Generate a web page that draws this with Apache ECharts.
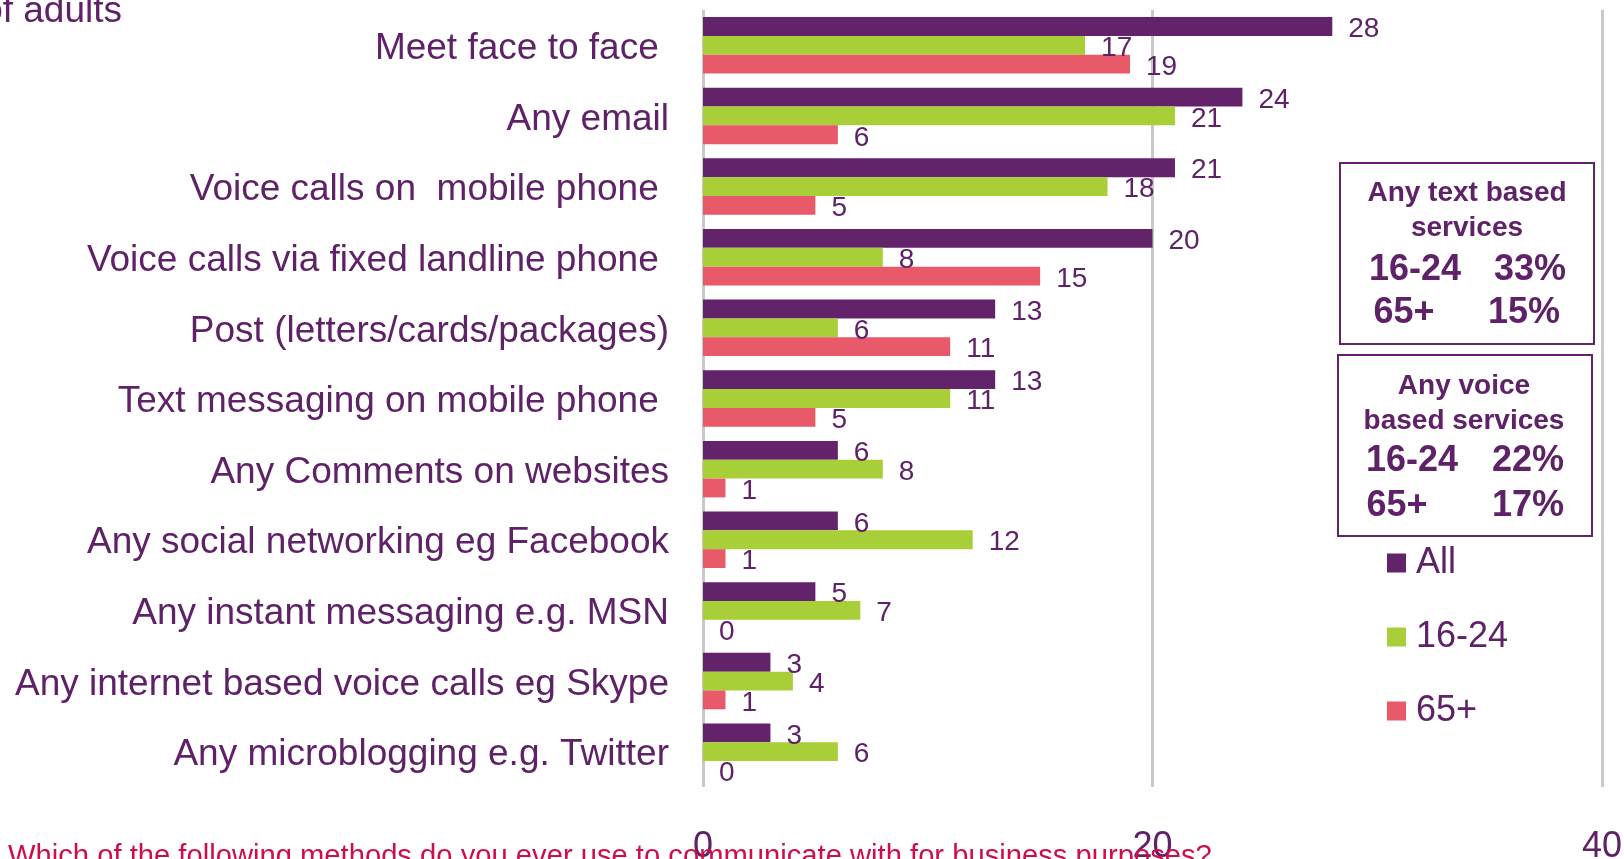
<!DOCTYPE html>
<html>
<head>
<meta charset="utf-8">
<title>Methods used to communicate for business purposes</title>
<script src="https://cdn.jsdelivr.net/npm/echarts@6/dist/echarts.min.js"></script>
<style>
  html, body { margin: 0; padding: 0; background: #ffffff; }
  #chart { width: 1624px; height: 859px; }
</style>
</head>
<body>
<div id="chart"></div>
<script>
// Communication methods (top to bottom); trailing spaces kept as in the source labels
const categories = [
  'Meet face to face ',
  'Any email',
  'Voice calls on  mobile phone ',
  'Voice calls via fixed landline phone ',
  'Post (letters/cards/packages)',
  'Text messaging on mobile phone ',
  'Any Comments on websites',
  'Any social networking eg Facebook',
  'Any instant messaging e.g. MSN',
  'Any internet based voice calls eg Skype',
  'Any microblogging e.g. Twitter'
];

// Percentage of adults using each method
const allAdults = [28, 24, 21, 20, 13, 13, 6, 6, 5, 3, 3];
const age16to24 = [17, 21, 18, 8, 6, 11, 8, 12, 7, 4, 6];
const age65plus = [19, 6, 5, 15, 11, 5, 1, 1, 0, 1, 0];

const seriesNames = ['All', '16-24', '65+'];

// Summary boxes
const textBasedTitle = ['Any text based', 'services'];
const textBasedRows = [['16-24', '33%'], ['65+', '15%']];
const voiceBasedTitle = ['Any voice', 'based services'];
const voiceBasedRows = [['16-24', '22%'], ['65+', '17%']];

const questionText = 'Which of the following methods do you ever use to communicate with for business purposes?';
const unitText = '% of adults';

const FONT = '"Liberation Sans", Arial, sans-serif';
const PURPLE = '#62236A';
const TEXT_PURPLE = '#5F2167';
const GREEN = '#A8CF37';
const RED = '#E8596A';
const GRID_GRAY = '#C9C9C9';

const chart = echarts.init(document.getElementById('chart'), null, { renderer: 'canvas' });

function barSeries(name, data, color) {
  return {
    name: name,
    type: 'bar',
    data: data,
    barGap: '0%',
    barCategoryGap: '20%',
    itemStyle: { color: color },
    label: {
      show: true,
      position: 'right',
      distance: 16,
      offset: [0, 3],
      color: TEXT_PURPLE,
      fontFamily: FONT,
      fontSize: 28
    }
  };
}

function boxText(text, x, y, size) {
  return {
    type: 'text',
    x: x,
    y: y,
    z: 10,
    style: {
      text: text,
      fill: TEXT_PURPLE,
      font: 'bold ' + size + 'px ' + FONT,
      align: 'center',
      verticalAlign: 'middle'
    }
  };
}

const graphics = [
  // Summary box: text based services
  {
    type: 'rect', z: 5,
    shape: { x: 1340, y: 163, width: 254, height: 181 },
    style: { fill: '#ffffff', stroke: PURPLE, lineWidth: 2 }
  },
  boxText(textBasedTitle[0], 1467, 193, 28),
  boxText(textBasedTitle[1], 1467, 228, 28),
  boxText(textBasedRows[0][0], 1415, 270, 36),
  boxText(textBasedRows[0][1], 1530, 270, 36),
  boxText(textBasedRows[1][0], 1404, 313, 36),
  boxText(textBasedRows[1][1], 1524, 313, 36),
  // Summary box: voice based services
  {
    type: 'rect', z: 5,
    shape: { x: 1338, y: 355, width: 254, height: 181 },
    style: { fill: '#ffffff', stroke: PURPLE, lineWidth: 2 }
  },
  boxText(voiceBasedTitle[0], 1464, 386, 28),
  boxText(voiceBasedTitle[1], 1464, 421, 28),
  boxText(voiceBasedRows[0][0], 1412, 461, 36),
  boxText(voiceBasedRows[0][1], 1528, 461, 36),
  boxText(voiceBasedRows[1][0], 1397, 506, 36),
  boxText(voiceBasedRows[1][1], 1528, 506, 36),
  // Unit caption, top left
  {
    type: 'text', x: 122, y: 12, z: 10,
    style: {
      text: unitText, fill: TEXT_PURPLE,
      font: '37px ' + FONT, align: 'right', verticalAlign: 'middle'
    }
  },
  // Survey question, bottom
  {
    type: 'text', x: 8, y: 857, z: 10,
    style: {
      text: questionText, fill: '#CE0E4A',
      font: '29.2px ' + FONT, align: 'left', verticalAlign: 'middle'
    }
  }
];

const option = {
  backgroundColor: '#ffffff',
  animation: false,
  textStyle: { fontFamily: FONT },
  grid: {
    left: 703, right: 22, top: 10, height: 777,
    containLabel: false,
    outerBoundsMode: 'none'
  },
  legend: {
    orient: 'vertical',
    left: 1382,
    top: 540,
    itemWidth: 19,
    itemHeight: 19,
    itemGap: 38,
    icon: 'rect',
    data: seriesNames,
    textStyle: {
      color: TEXT_PURPLE, fontSize: 36, fontFamily: FONT, lineHeight: 36,
      padding: [0, 0, 0, 5]
    }
  },
  xAxis: {
    type: 'value',
    min: 0,
    max: 40,
    interval: 20,
    axisLine: { show: false },
    axisTick: { show: false },
    splitLine: { show: true, lineStyle: { color: GRID_GRAY, width: 3 } },
    axisLabel: { color: TEXT_PURPLE, fontSize: 36, fontFamily: FONT, margin: 42 }
  },
  yAxis: {
    type: 'category',
    inverse: true,
    data: categories,
    axisLine: { show: false },
    axisTick: { show: false },
    axisLabel: {
      color: TEXT_PURPLE, fontSize: 37, fontFamily: FONT, margin: 34,
      verticalAlign: 'top',
      lineHeight: 7
    }
  },
  series: [
    barSeries(seriesNames[0], allAdults, PURPLE),
    barSeries(seriesNames[1], age16to24, GREEN),
    barSeries(seriesNames[2], age65plus, RED)
  ],
  graphic: graphics
};

chart.setOption(option);
</script>
</body>
</html>
